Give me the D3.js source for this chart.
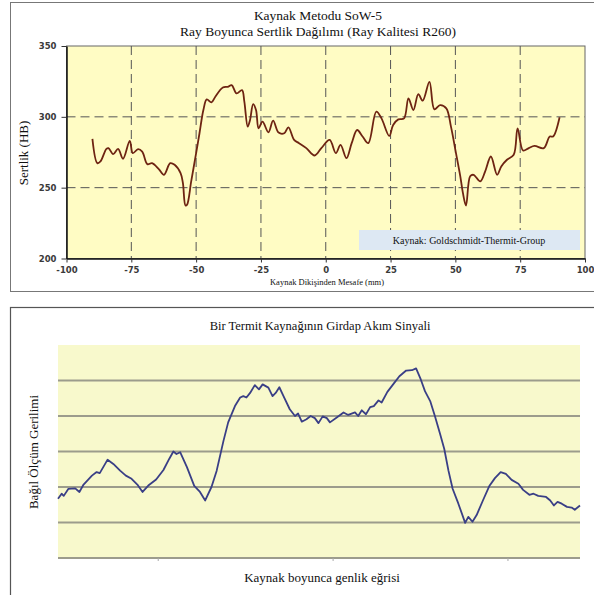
<!DOCTYPE html>
<html>
<head>
<meta charset="utf-8">
<script src="https://cdn.jsdelivr.net/npm/d3@7"></script>
<style>
  body { margin: 0; background: #fff; }
  svg { display: block; }
  .tick text { font-family: "DejaVu Sans", Verdana, sans-serif; font-weight: bold; font-size: 8.5px; fill: #3a3a3a; }
  .serif { font-family: "Liberation Serif", "DejaVu Serif", "Times New Roman", serif; fill: #111; }
</style>
</head>
<body>
<svg id="chart" width="594" height="595"></svg>
<script>
// top chart: hardness along the rail
var hardX = [-90, -88.1, -86.9, -84.6, -83.8, -82, -80.1, -78.2, -75.6, -74.4, -72.4, -70.8, -68.8, -67, -64.4, -62.4, -60, -58.3, -56, -55.1, -54.1, -53.5, -51.9, -50, -48.7, -47.2, -45.9, -44.1, -42.6, -39.7, -37.8, -36.3, -34.4, -32.3, -31.4, -30.1, -29.2, -28, -26.9, -25.9, -24.4, -22.1, -20.3, -18.2, -16, -14.4, -12.2, -10.3, -7.5, -4.3, -1.7, 1.5, 3.9, 5.7, 8, 10, 12.1, 14.2, 16.4, 19.5, 21.5, 24.5, 26, 28, 30.2, 31.9, 33.8, 35.7, 37.4, 40, 41.9, 44.1, 46.5, 48.3, 50, 51.9, 52.9, 54.1, 55.7, 57, 59.6, 61.5, 63.7, 66.1, 67.7, 69.9, 72.5, 74, 76.1, 78.3, 80.5, 84.1, 86.4, 87.7, 90.2];
var hardY = [284.4, 267.3, 268.5, 277.4, 277.9, 273.7, 277.4, 270.4, 283, 274.4, 277.2, 275.5, 266.6, 267.3, 263.1, 259.1, 267.3, 266.2, 260.3, 253.3, 237.4, 238, 254.4, 274.4, 288.4, 304.8, 312.3, 310.2, 314.2, 320.7, 321.2, 322.4, 316.5, 318.9, 310.7, 293.1, 297.8, 309, 304.8, 291.9, 296.6, 289.1, 297.3, 288.9, 288.4, 292.6, 283.7, 281.4, 277.9, 272.7, 277.9, 283.7, 274.4, 280.2, 270.8, 281.4, 290.7, 286.1, 281.4, 303.6, 298.9, 286.5, 294.3, 298.2, 298.9, 313, 304.8, 316, 311.4, 324.7, 305.3, 308.3, 306, 293.1, 276.7, 258, 246.3, 237.4, 258, 259.1, 254.4, 261.5, 272, 259.1, 265, 269.7, 273.2, 291.9, 276.2, 277.9, 279.5, 277.9, 286.1, 286.1, 299.7];
var hardXTicks = [-100, -75, -50, -25, 0, 25, 50, 75, 100];
var hardYTicks = [200, 250, 300, 350];

// bottom chart: eddy current signal (relative units, position in % of weld length)
var sigX = [0, 0.7, 1.1, 2, 3.3, 4.1, 4.9, 6.5, 7.4, 8, 9.5, 10.6, 11.9, 13, 14.1, 15.2, 16.2, 17.3, 18.8, 20.2, 21.3, 22.1, 22.7, 23.4, 24.7, 26.1, 27.2, 28.2, 29.4, 30.4, 31.7, 32.6, 33.9, 34.9, 35.5, 36.1, 36.8, 37.7, 38.5, 39.2, 40.3, 41.1, 41.7, 42.4, 43.2, 44.4, 45.4, 46, 46.7, 47.6, 48.4, 49.2, 49.9, 50.7, 51.5, 52.1, 53.4, 54.7, 55.6, 56.9, 57.5, 58.2, 59, 59.8, 60.5, 61.4, 62, 63.1, 64.2, 65.4, 66.7, 67.8, 68.6, 69.5, 70.3, 71.3, 72.2, 73.2, 74, 74.8, 75.6, 76.7, 78, 78.6, 79.4, 80.2, 81.4, 82.6, 83.7, 84.8, 85.8, 86.9, 88.2, 89.1, 90.3, 91.1, 92, 93.5, 94.3, 95, 95.7, 96.5, 97.5, 98.4, 99, 100];
var sigY = [1.67, 1.81, 1.75, 1.95, 1.96, 1.86, 2.07, 2.32, 2.42, 2.39, 2.77, 2.65, 2.46, 2.32, 2.23, 2.07, 1.86, 2.04, 2.21, 2.48, 2.79, 3.0, 2.93, 2.98, 2.56, 2.03, 1.86, 1.62, 2.0, 2.46, 3.3, 3.82, 4.28, 4.52, 4.56, 4.52, 4.65, 4.87, 4.75, 4.89, 4.8, 4.56, 4.65, 4.81, 4.56, 4.19, 4.0, 4.07, 3.84, 3.91, 4.0, 3.94, 3.8, 3.99, 3.94, 3.82, 3.96, 4.1, 4.03, 4.1, 4.0, 4.16, 4.05, 4.25, 4.28, 4.44, 4.38, 4.68, 4.89, 5.12, 5.28, 5.29, 5.34, 5.03, 4.7, 4.42, 4.0, 3.49, 3.07, 2.46, 1.95, 1.53, 0.99, 1.16, 1.02, 1.21, 1.62, 2.02, 2.25, 2.42, 2.37, 2.2, 2.09, 1.92, 1.78, 1.81, 1.75, 1.72, 1.62, 1.48, 1.58, 1.53, 1.44, 1.42, 1.36, 1.48];
var sigYTicks = [0, 1, 2, 3, 4, 5];
var sigXTicks = [19.2, 52.7, 86.2];

var svg = d3.select("#chart");

// ---------- top chart ----------
svg.append("rect").attr("x", 10.5).attr("y", 2.5).attr("width", 600).attr("height", 289)
    .attr("fill", "#fff").attr("stroke", "#777");

var m1 = { left: 66.5, right: 585, top: 46, bottom: 258.5 };
var x1 = d3.scaleLinear().domain([-100, 100]).range([m1.left, m1.right]);
var y1 = d3.scaleLinear().domain([200, 350]).range([m1.bottom, m1.top]);

svg.append("rect").attr("x", m1.left).attr("y", m1.top)
    .attr("width", m1.right - m1.left).attr("height", m1.bottom - m1.top)
    .attr("fill", "#fffcc4").attr("stroke", "#666");

// dashed grid
svg.append("g").selectAll("line").data(hardXTicks.slice(1, -1)).join("line")
    .attr("x1", d => x1(d)).attr("x2", d => x1(d))
    .attr("y1", m1.top).attr("y2", m1.bottom)
    .attr("stroke", "#555").attr("stroke-width", 1).attr("stroke-dasharray", "9,5");
svg.append("g").selectAll("line").data([250, 300]).join("line")
    .attr("x1", m1.left).attr("x2", m1.right)
    .attr("y1", d => y1(d)).attr("y2", d => y1(d))
    .attr("stroke", "#555").attr("stroke-width", 1).attr("stroke-dasharray", "9,5");

svg.append("g").attr("transform", `translate(0,${m1.bottom})`)
    .call(d3.axisBottom(x1).tickValues(hardXTicks).tickFormat(d => String(d)).tickSize(4).tickSizeOuter(0).tickPadding(4))
    .call(g => g.select(".domain").attr("stroke", "#111").attr("stroke-width", 1.5))
    .call(g => g.selectAll(".tick line").attr("stroke", "#333"));
svg.append("g").attr("transform", `translate(${m1.left},0)`)
    .call(d3.axisLeft(y1).tickValues(hardYTicks).tickFormat(d => String(d)).tickSize(5).tickSizeOuter(0).tickPadding(5))
    .call(g => g.select(".domain").attr("stroke", "#111").attr("stroke-width", 1.5))
    .call(g => g.selectAll(".tick line").attr("stroke", "#333"));

var line1 = d3.line()
    .x((d, i) => x1(hardX[i]))
    .y(d => y1(d))
    .curve(d3.curveCatmullRom.alpha(0.5));
svg.append("path").datum(hardY)
    .attr("fill", "none").attr("stroke", "#6e2412").attr("stroke-width", 1.8)
    .attr("d", line1);

// source box
svg.append("rect").attr("x", 359).attr("y", 230).attr("width", 221).attr("height", 20)
    .attr("fill", "#dde8f3");
svg.append("text").attr("class", "serif").attr("x", 469).attr("y", 244).attr("text-anchor", "middle")
    .attr("font-size", 10).text("Kaynak: Goldschmidt-Thermit-Group");

svg.append("text").attr("class", "serif").attr("x", 318).attr("y", 20).attr("text-anchor", "middle")
    .attr("font-size", 13.5).text("Kaynak Metodu SoW-5");
svg.append("text").attr("class", "serif").attr("x", 318).attr("y", 36).attr("text-anchor", "middle")
    .attr("font-size", 13.5).text("Ray Boyunca Sertlik Dağılımı (Ray Kalitesi R260)");
svg.append("text").attr("class", "serif").attr("x", 327).attr("y", 285).attr("text-anchor", "middle")
    .attr("font-size", 8.5).text("Kaynak Dikişinden  Mesafe (mm)");
svg.append("text").attr("class", "serif").attr("transform", "translate(28,153) rotate(-90)").attr("text-anchor", "middle")
    .attr("font-size", 13).text("Sertlik (HB)");

// ---------- bottom chart ----------
svg.append("rect").attr("x", 10.5).attr("y", 307.5).attr("width", 600).attr("height", 300)
    .attr("fill", "#fff").attr("stroke", "#555").attr("stroke-width", 1.2);

var m2 = { left: 58, right: 580, top: 345, bottom: 558 };
var x2 = d3.scaleLinear().domain([0, 100]).range([m2.left, m2.right]);
var y2 = d3.scaleLinear().domain([0, 6]).range([m2.bottom, m2.top]);

svg.append("rect").attr("x", m2.left).attr("y", m2.top)
    .attr("width", m2.right - m2.left).attr("height", m2.bottom - m2.top)
    .attr("fill", "#f8f9cc");

svg.append("g").selectAll("line").data(sigYTicks).join("line")
    .attr("x1", m2.left).attr("x2", m2.right)
    .attr("y1", d => y2(d)).attr("y2", d => y2(d))
    .attr("stroke", "#9c9c8c").attr("stroke-width", 2.2);

svg.append("g").selectAll("line").data(sigXTicks).join("line")
    .attr("x1", d => x2(d)).attr("x2", d => x2(d))
    .attr("y1", m2.bottom).attr("y2", m2.bottom + 3)
    .attr("stroke", "#aaa").attr("stroke-width", 1);

var line2 = d3.line()
    .x((d, i) => x2(sigX[i]))
    .y(d => y2(d));
svg.append("path").datum(sigY)
    .attr("fill", "none").attr("stroke", "#3a3f86").attr("stroke-width", 1.8)
    .attr("stroke-linejoin", "round").attr("d", line2);

svg.append("text").attr("class", "serif").attr("x", 320).attr("y", 330).attr("text-anchor", "middle")
    .attr("font-size", 12.5).text("Bir Termit Kaynağının Girdap Akım Sinyali");
svg.append("text").attr("class", "serif").attr("x", 322).attr("y", 582).attr("text-anchor", "middle")
    .attr("font-size", 13).text("Kaynak boyunca genlik eğrisi");
svg.append("text").attr("class", "serif").attr("transform", "translate(38,452) rotate(-90)").attr("text-anchor", "middle")
    .attr("font-size", 13).text("Bağıl Ölçüm Gerilimi");
</script>
</body>
</html>
